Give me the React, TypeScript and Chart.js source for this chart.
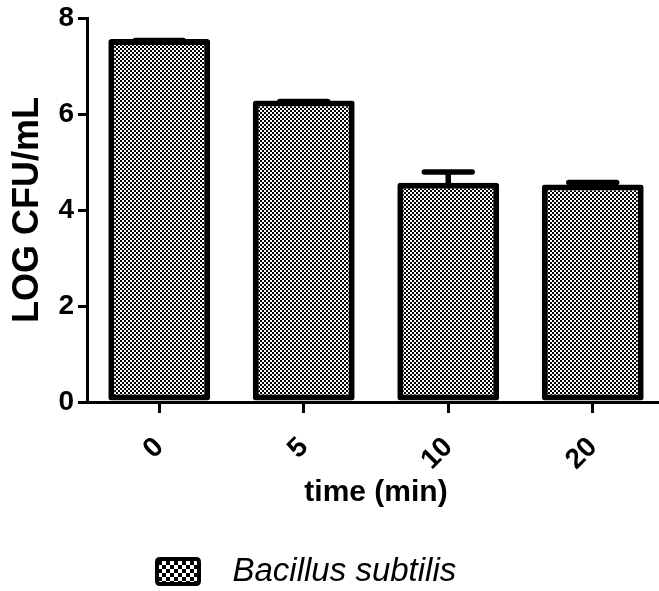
import React, { useEffect, useRef } from "react";
import { Chart, registerables } from "chart.js";

Chart.register(...registerables);

const categories = ["0", "5", "10", "20"];
const meanValues = [7.56, 6.28, 4.57, 4.53];
const errorValues = [0.03, 0.04, 0.28, 0.1];
const yMin = 0;
const yMax = 8;
const yStep = 2;
const seriesLabel = "Bacillus subtilis";
const xTitle = "time (min)";
const yTitle = "LOG CFU/mL";

const FONT = "'Liberation Sans', Arial, Helvetica, sans-serif";
const ERR_LW = 5.5;

function makeChecker(size: number): HTMLCanvasElement {
  const c = document.createElement("canvas");
  c.width = size * 2;
  c.height = size * 2;
  const g = c.getContext("2d")!;
  g.fillStyle = "#ffffff";
  g.fillRect(0, 0, size * 2, size * 2);
  g.fillStyle = "#000000";
  g.fillRect(0, 0, size, size);
  g.fillRect(size, size, size, size);
  return c;
}

function makeLegendImage(): HTMLCanvasElement {
  const padLeft = 145;
  const boxW = 46;
  const boxH = 29;
  const padRight = 15;
  const c = document.createElement("canvas");
  c.width = padLeft + boxW + padRight;
  c.height = boxH;
  const g = c.getContext("2d")!;
  const lw = 4;
  const x = padLeft + lw / 2;
  const y = lw / 2;
  const w = boxW - lw;
  const h = boxH - lw;
  const r = 3;
  g.beginPath();
  g.moveTo(x + r, y);
  g.lineTo(x + w - r, y);
  g.quadraticCurveTo(x + w, y, x + w, y + r);
  g.lineTo(x + w, y + h - r);
  g.quadraticCurveTo(x + w, y + h, x + w - r, y + h);
  g.lineTo(x + r, y + h);
  g.quadraticCurveTo(x, y + h, x, y + h - r);
  g.lineTo(x, y + r);
  g.quadraticCurveTo(x, y, x + r, y);
  g.closePath();
  g.fillStyle = g.createPattern(makeChecker(4), "repeat") as CanvasPattern;
  g.fill();
  g.lineWidth = lw;
  g.strokeStyle = "#000";
  g.stroke();
  return c;
}

const errorBarPlugin = {
  id: "errorBars",
  afterDatasetsDraw(chart: any) {
    const meta = chart.getDatasetMeta(0);
    const yScale = chart.scales.y;
    const ctx = chart.ctx;
    ctx.save();
    ctx.strokeStyle = "#000";
    ctx.lineWidth = ERR_LW;
    ctx.lineCap = "round";
    meta.data.forEach((bar: any, i: number) => {
      // outer (top) edge of the cap sits at mean + error
      const top = yScale.getPixelForValue(meanValues[i] + errorValues[i]) + ERR_LW / 2;
      const half = bar.width * 0.235;
      ctx.beginPath();
      ctx.moveTo(bar.x, bar.y + 3);
      ctx.lineTo(bar.x, top);
      ctx.moveTo(bar.x - half, top);
      ctx.lineTo(bar.x + half, top);
      ctx.stroke();
    });
    ctx.restore();
  },
};

export default function App() {
  const ref = useRef<HTMLCanvasElement | null>(null);

  useEffect(() => {
    const canvas = ref.current;
    if (!canvas) return;
    const ctx = canvas.getContext("2d")!;
    const barPattern = ctx.createPattern(makeChecker(2), "repeat") as CanvasPattern;
    const legendImg = makeLegendImage();

    const chart = new Chart(canvas, {
      type: "bar",
      data: {
        labels: categories,
        datasets: [
          {
            label: seriesLabel,
            data: meanValues,
            backgroundColor: barPattern,
            borderColor: "#000",
            borderWidth: 6,
            borderSkipped: false,
            borderRadius: 3,
            barPercentage: 0.705,
            categoryPercentage: 1,
          },
        ],
      },
      plugins: [errorBarPlugin],
      options: {
        responsive: false,
        animation: false,
        events: [],
        layout: { padding: { left: 0, right: 15, top: 0, bottom: 0 } },
        plugins: {
          tooltip: { enabled: false },
          legend: {
            position: "bottom",
            align: "start",
            fullSize: true,
            labels: {
              usePointStyle: true,
              pointStyle: legendImg as any,
              pointStyleWidth: legendImg.width,
              boxHeight: 29,
              padding: 10,
              color: "#000",
              font: { family: FONT, size: 33, style: "italic" },
            },
          },
        },
        scales: {
          x: {
            type: "category",
            offset: true,
            grid: {
              display: true,
              drawOnChartArea: false,
              drawTicks: true,
              tickLength: 11,
              color: "#000",
              lineWidth: 3,
              offset: false,
            },
            border: { display: true, color: "#000", width: 3 },
            ticks: {
              color: "#000",
              font: { family: FONT, size: 28, weight: "bold" },
              minRotation: 45,
              maxRotation: 45,
              padding: 18,
            },
            title: {
              display: true,
              text: xTitle,
              color: "#000",
              font: { family: FONT, size: 30, weight: "bold", lineHeight: 1 },
              padding: { top: 0, bottom: 37 },
            },
            afterFit: (s: any) => {
              s.height = 143;
            },
          },
          y: {
            min: yMin,
            max: yMax,
            grid: {
              display: true,
              drawOnChartArea: false,
              drawTicks: true,
              tickLength: 9,
              color: "#000",
              lineWidth: 3,
            },
            border: { display: true, color: "#000", width: 3 },
            ticks: {
              stepSize: yStep,
              color: "#000",
              font: { family: FONT, size: 28, weight: "bold", lineHeight: 1 },
              padding: 4,
            },
            title: {
              display: true,
              text: yTitle,
              color: "#000",
              font: { family: FONT, size: 36, weight: "bold", lineHeight: 1 },
              padding: { top: 10, bottom: 0 },
            },
            afterFit: (s: any) => {
              s.width = 87;
            },
          },
        },
      },
    });
    return () => chart.destroy();
  }, []);

  return (
    <div
      style={{
        position: "fixed",
        left: 0,
        top: 0,
        width: "100vw",
        height: "100vh",
        overflow: "hidden",
        background: "#fff",
      }}
    >
      <canvas
        ref={ref}
        width={680}
        height={598}
        style={{ display: "block", width: 680, height: 598 }}
      />
    </div>
  );
}
